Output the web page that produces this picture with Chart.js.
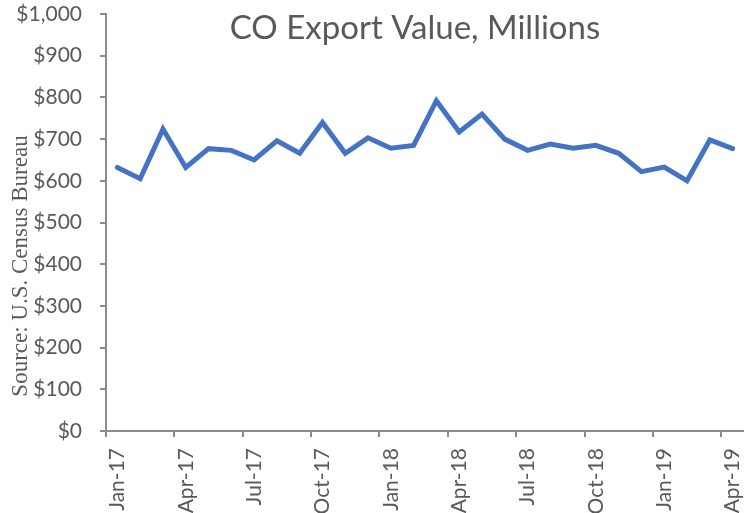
<!DOCTYPE html>
<html>
<head>
<meta charset="utf-8">
<script src="https://cdn.jsdelivr.net/npm/chart.js@4"></script>
<style>
  body { margin: 0; background: #fff; }
  canvas { display: block; }
</style>
</head>
<body>
<canvas id="myChart" width="744" height="513"></canvas>
<script>
const months = [
  "Jan-17", "Feb-17", "Mar-17", "Apr-17", "May-17", "Jun-17",
  "Jul-17", "Aug-17", "Sep-17", "Oct-17", "Nov-17", "Dec-17",
  "Jan-18", "Feb-18", "Mar-18", "Apr-18", "May-18", "Jun-18",
  "Jul-18", "Aug-18", "Sep-18", "Oct-18", "Nov-18", "Dec-18",
  "Jan-19", "Feb-19", "Mar-19", "Apr-19"
];

// export value, millions of dollars
const exportValue = [
  632, 605, 724, 632, 677, 673,
  650, 696, 666, 740, 666, 703,
  678, 685, 792, 717, 760, 700,
  673, 688, 678, 685, 666, 622,
  633, 600, 698, 677
];

const chartTitle = "CO Export Value, Millions";
const sourceNote = "Source: U.S. Census Bureau";

const gray = "#595959";
const axisGray = "#8c8c8c";

// title and source are drawn over the layout, like the original
const textPlugin = {
  id: "overlayText",
  afterDraw(chart) {
    const ctx = chart.ctx;
    ctx.save();
    ctx.fillStyle = gray;
    ctx.font = "33px Lato";
    ctx.textAlign = "center";
    ctx.textBaseline = "alphabetic";
    ctx.fillText(chartTitle, 415, 39);

    ctx.translate(27, 266);
    ctx.rotate(-Math.PI / 2);
    ctx.font = "23px 'Liberation Serif'";
    ctx.fillText(sourceNote, 0, 0);
    ctx.restore();
  }
};

const data = {
  labels: months,
  datasets: [
    {
      label: "CO exports",
      data: exportValue,
      borderColor: "#4472c4",
      backgroundColor: "#4472c4",
      borderWidth: 5,
      pointRadius: 0,
      tension: 0,
      borderCapStyle: "round",
      borderJoinStyle: "miter"
    }
  ]
};

const config = {
  type: "line",
  data: data,
  options: {
    responsive: false,
    animation: false,
    layout: { padding: { top: 14, right: 0, left: 0, bottom: 0 } },
    plugins: {
      legend: { display: false },
      title: { display: false },
      tooltip: { enabled: false }
    },
    scales: {
      x: {
        offset: true,
        afterFit: (s) => {
          s.height = 82;
          s.paddingLeft = 0;
          s.paddingRight = 0;
        },
        grid: {
          offset: true,
          drawOnChartArea: false,
          tickLength: 6,
          lineWidth: 2,
          color: (c) => (c.index % 3 === 0 ? axisGray : "rgba(0,0,0,0)")
        },
        border: { display: true, color: axisGray, width: 2 },
        ticks: {
          autoSkip: false,
          maxRotation: 90,
          minRotation: 90,
          padding: 11,
          color: gray,
          font: { family: "Lato", size: 21 },
          callback: function (val, i) {
            return i % 3 === 0 ? months[i] : "";
          }
        }
      },
      y: {
        min: 0,
        max: 1000,
        afterFit: (s) => {
          s.width = 106;
          s.paddingTop = 0;
          s.paddingBottom = 0;
        },
        grid: {
          drawOnChartArea: false,
          tickLength: 6,
          lineWidth: 2,
          color: axisGray
        },
        border: { display: true, color: axisGray, width: 2 },
        ticks: {
          stepSize: 100,
          padding: 18,
          color: gray,
          font: { family: "Lato", size: 21 },
          callback: (v) => "$" + v.toLocaleString("en-US")
        }
      }
    }
  },
  plugins: [textPlugin]
};

let myChart = new Chart(document.getElementById("myChart"), config);
</script>
</body>
</html>
